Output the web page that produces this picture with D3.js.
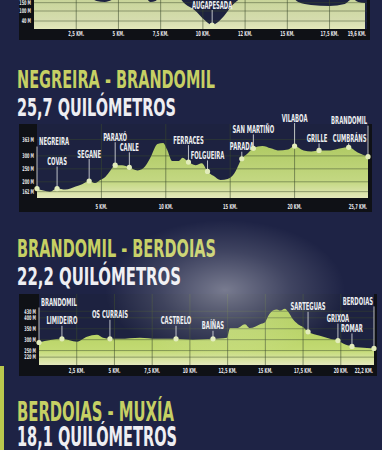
<!DOCTYPE html>
<html>
<head>
<meta charset="utf-8">
<script src="https://cdn.jsdelivr.net/npm/d3@7.9.0/dist/d3.min.js"></script>
<style>
  html, body { margin: 0; padding: 0; background: #1e2345; }
  svg { display: block; }
  text { font-family: "Liberation Sans Narrow", "DejaVu Sans Condensed", "Roboto", sans-serif; font-weight: bold; }
  text.title { font-family: "DejaVu Sans Condensed", "Liberation Sans Narrow", sans-serif; }
</style>
</head>
<body>
<svg id="chart" width="382" height="450"></svg>
<script>
// --- data -------------------------------------------------------------
// previous stage, only its bottom strip is visible
const prevKm = [0, 3.3, 3.7, 4.2, 4.6, 5.1, 6.6, 6.9, 7.2, 7.5, 8.5, 8.95, 9.5, 10.1, 10.55, 10.9, 11.3, 11.7, 12.1, 12.5, 15.2, 15.65, 16.4, 17.5, 18.4, 18.85, 19.2, 19.6];
const prevElev = [196, 178, 160, 154, 166, 196, 178, 154, 160, 190, 184, 142, 106, 46, 16, 34, 76, 130, 166, 196, 184, 154, 136, 130, 142, 172, 154, 148];
const prevPlaces = ['AUGAPESADA'];
const prevPlaceKm = [10.55];
const prevPlaceElev = [16];
const prevXTicks = [2.5, 5, 7.5, 10, 12.5, 15, 17.5, 19.6];
const prevXLabels = ['2,5 KM.', '5 KM.', '7,5 KM.', '10 KM.', '12 KM.', '15 KM.', '17,5 KM.', '19,6 KM.'];
const prevYTicks = [40, 100, 150];

// Negreira - Brandomil
const negKm = [0, 0.5, 1.0, 1.56, 2.2, 3.0, 3.5, 4.05, 4.5, 4.9, 5.3, 5.7, 6.07, 6.6, 7.17, 7.8, 8.25, 8.8, 9.35, 9.8, 10.1, 10.5, 11.0, 11.3, 11.76, 12.3, 12.8, 13.24, 13.7, 14.25, 14.8, 15.3, 15.9, 16.35, 16.8, 17.5, 18.15, 18.7, 19.5, 20.0, 20.7, 21.3, 21.9, 22.8, 23.6, 24.2, 24.9, 25.7];
const negElev = [174, 166, 162, 174, 170, 182, 191, 203, 195, 207, 219, 244, 264, 264, 256, 244, 252, 293, 346, 350, 325, 280, 280, 293, 276, 264, 272, 240, 223, 207, 211, 231, 289, 309, 329, 338, 329, 321, 325, 338, 321, 317, 321, 321, 329, 333, 313, 297];
const negPlaces = ['NEGREIRA', 'COVAS', 'SEGANE', 'PARAXÓ', 'CANLE', 'FERRACES', 'FOLGUEIRA', 'PARADA', 'SAN MARTIÑO', 'VILABOA', 'GRILLE', 'CUMBRÁNS', 'BRANDOMIL'];
const negPlaceKm = [0, 1.56, 4.05, 6.07, 7.17, 11.76, 13.24, 15.9, 16.8, 20.0, 21.9, 24.2, 25.7];
const negPlaceElev = [174, 174, 203, 264, 256, 276, 240, 289, 329, 338, 321, 333, 297];
const negXTicks = [5, 10, 15, 20, 25.7];
const negXLabels = ['5 KM.', '10 KM.', '15 KM.', '20 KM.', '25,7 KM.'];
const negYTicks = [162, 200, 250, 300, 363];

// Brandomil - Berdoias
const braKm = [0, 1.52, 2.52, 3.18, 3.84, 4.24, 4.7, 5.37, 6.69, 7.82, 9.08, 10.2, 11.53, 12.46, 12.66, 13.12, 13.65, 13.98, 14.65, 14.98, 15.18, 15.5, 15.77, 15.97, 16.3, 16.5, 16.83, 17.16, 17.5, 17.83, 18.62, 19.28, 19.81, 20.15, 20.74, 21.27, 22.2];
const braElev = [287, 304, 291, 313, 322, 309, 304, 304, 309, 304, 304, 300, 304, 309, 353, 353, 371, 353, 371, 380, 407, 433, 438, 433, 442, 429, 393, 371, 358, 336, 318, 304, 296, 282, 269, 264, 260];
const braPlaces = ['BRANDOMIL', 'LIMIDEIRO', 'OS CURRAIS', 'CASTRELO', 'BAÍÑAS', 'SARTEGUAS', 'GRIXOA', 'ROMAR', 'BERDOIAS'];
const braPlaceKm = [0, 1.52, 4.7, 9.08, 11.53, 17.83, 19.81, 20.74, 22.2];
const braPlaceElev = [287, 304, 304, 304, 304, 336, 296, 269, 260];
const braXTicks = [2.5, 5, 7.5, 10, 12.5, 15, 17.5, 20, 22.2];
const braXLabels = ['2,5 KM.', '5 KM.', '7,5 KM.', '10 KM.', '12,5 KM.', '15 KM.', '17,5 KM.', '20 KM.', '22,2 KM.'];
const braYTicks = [220, 250, 300, 350, 400, 430];

// --- drawing ----------------------------------------------------------
const svg = d3.select('#chart');
const defs = svg.append('defs');

// soft glare from the photo
const glare = defs.append('radialGradient').attr('id', 'glare');
glare.append('stop').attr('offset', '0%').attr('stop-color', '#ffffff').attr('stop-opacity', 0.4);
glare.append('stop').attr('offset', '55%').attr('stop-color', '#ffffff').attr('stop-opacity', 0.15);
glare.append('stop').attr('offset', '100%').attr('stop-color', '#ffffff').attr('stop-opacity', 0);

svg.append('rect').attr('width', 382).attr('height', 450).attr('fill', '#1e2345');
svg.append('rect').attr('x', 0).attr('y', 366).attr('width', 4).attr('height', 84).attr('fill', '#b9c84e');

// measure once so labels get the narrow print look whatever font is picked
const probe = svg.append('text').attr('font-size', 10).text('NEGREIRA');
const squeeze = 30 / probe.node().getComputedTextLength();
probe.remove();

function condense(sel) {
    sel.each(function () {
        const w = this.getComputedTextLength();
        d3.select(this).attr('textLength', w * squeeze).attr('lengthAdjust', 'spacingAndGlyphs');
    });
}

function drawProfile(c, idx) {
    const g = svg.append('g');
    const x = d3.scaleLinear().domain([0, c.km[c.km.length - 1]]).range(c.xRange);
    const y = d3.scaleLinear().domain(c.yDomain).range([c.plot.y1, c.plot.y0]);

    g.append('rect')
        .attr('x', c.panel.x0).attr('y', c.panel.y0)
        .attr('width', c.panel.x1 - c.panel.x0).attr('height', c.panel.y1 - c.panel.y0)
        .attr('fill', '#0f1116');
    g.append('rect')
        .attr('x', c.plot.x0).attr('y', c.plot.y0)
        .attr('width', c.plot.x1 - c.plot.x0).attr('height', c.plot.y1 - c.plot.y0)
        .attr('fill', '#1d2240');

    const grad = defs.append('linearGradient').attr('id', 'fill' + idx)
        .attr('gradientUnits', 'userSpaceOnUse')
        .attr('x1', 0).attr('x2', 0).attr('y1', c.plot.y0 + 10).attr('y2', c.plot.y1);
    grad.append('stop').attr('offset', '0%').attr('stop-color', c.fillTop);
    grad.append('stop').attr('offset', '75%').attr('stop-color', c.fillMid);
    grad.append('stop').attr('offset', '100%').attr('stop-color', '#e4e8bc');

    defs.append('clipPath').attr('id', 'clip' + idx).append('rect')
        .attr('x', c.plot.x0).attr('y', c.plot.y0)
        .attr('width', c.plot.x1 - c.plot.x0).attr('height', c.plot.y1 - c.plot.y0);

    const inner = g.append('g').attr('clip-path', `url(#clip${idx})`);
    const area = d3.area()
        .x((d, i) => x(c.km[i]))
        .y0(c.plot.y1)
        .y1((d) => y(d))
        .curve(d3.curveMonotoneX);
    inner.append('path').datum(c.elev).attr('d', area).attr('fill', `url(#fill${idx})`);

    // grid lines show only over the light fill
    inner.selectAll('.hgrid').data(c.yTicks).join('line')
        .attr('x1', c.plot.x0).attr('x2', c.plot.x1)
        .attr('y1', (d) => y(d)).attr('y2', (d) => y(d))
        .attr('stroke', '#3c4a2c').attr('stroke-opacity', 0.6).attr('stroke-width', 0.8);
    inner.selectAll('.vgrid').data(c.xTicks.slice(0, -1)).join('line')
        .attr('x1', (d) => x(d)).attr('x2', (d) => x(d))
        .attr('y1', c.plot.y0).attr('y2', c.plot.y1)
        .attr('stroke', '#3c4a2c').attr('stroke-opacity', 0.7).attr('stroke-width', 0.8);

    // axis labels
    g.selectAll('.xlab').data(c.xTicks).join('text')
        .attr('x', (d, i) => i === c.xTicks.length - 1 ? c.plot.x1 - 1 : x(d))
        .attr('y', c.xLabelY)
        .attr('text-anchor', (d, i) => i === c.xTicks.length - 1 ? 'end' : 'middle')
        .attr('font-size', 7).attr('fill', '#e6e6ea')
        .text((d, i) => c.xLabels[i])
        .call(condense);
    g.selectAll('.ylab').data(c.yTicks).join('text')
        .attr('x', c.plot.x0 - 3).attr('y', (d) => y(d) + 2.3)
        .attr('text-anchor', 'end')
        .attr('font-size', 6.5).attr('fill', '#e6e6ea')
        .text((d) => `${d} M`)
        .call(condense);

    // places: leader, dot and name
    c.places.forEach((name, i) => {
        const px = x(c.placeKm[i]);
        const py = y(c.placeElev[i]);
        const lay = c.labels[i];
        const ly = py - lay.up;
        g.append('line')
            .attr('x1', px).attr('x2', px).attr('y1', ly + 5).attr('y2', py)
            .attr('stroke', '#eef0f0').attr('stroke-width', 0.9).attr('stroke-opacity', 0.85);
        g.append('circle').attr('cx', px).attr('cy', py).attr('r', 2.6)
            .attr('fill', '#e2ecbb');
        g.append('text')
            .attr('x', lay.anchor === 'start' ? px + 2 : lay.anchor === 'end' ? px - 1 : px + (lay.dx || 0))
            .attr('y', ly + 3.6)
            .attr('text-anchor', lay.anchor || 'middle')
            .attr('font-size', 10).attr('fill', '#eceef0')
            .text(name)
            .call(condense);
    });
}

const charts = [
    {
        km: prevKm, elev: prevElev,
        places: prevPlaces, placeKm: prevPlaceKm, placeElev: prevPlaceElev,
        xTicks: prevXTicks, xLabels: prevXLabels, yTicks: prevYTicks,
        panel: { x0: 19, x1: 370, y0: -5, y1: 40 },
        plot: { x0: 34, x1: 367, y0: -10, y1: 29 },
        xRange: [34, 365], yDomain: [-8, 226], xLabelY: 35.5,
        fillTop: '#c9d59a', fillMid: '#d6ddb0',
        labels: [{ up: 20 }]
    },
    {
        km: negKm, elev: negElev,
        places: negPlaces, placeKm: negPlaceKm, placeElev: negPlaceElev,
        xTicks: negXTicks, xLabels: negXLabels, yTicks: negYTicks,
        panel: { x0: 19, x1: 372, y0: 124, y1: 212 },
        plot: { x0: 37, x1: 368, y0: 124, y1: 198 },
        xRange: [37, 368], yDomain: [137.5, 423], xLabelY: 208.5,
        fillTop: '#a9c65a', fillMid: '#c4d883',
        labels: [
            { up: 47, anchor: 'start' }, { up: 27 }, { up: 27 }, { up: 28 }, { up: 20 },
            { up: 22 }, { up: 16 }, { up: 12 }, { up: 19 }, { up: 28 }, { up: 12, dx: -2 }, { up: 9, dx: 1 },
            { up: 36, anchor: 'end' }
        ]
    },
    {
        km: braKm, elev: braElev,
        places: braPlaces, placeKm: braPlaceKm, placeElev: braPlaceElev,
        xTicks: braXTicks, xLabels: braXLabels, yTicks: braYTicks,
        panel: { x0: 19, x1: 377, y0: 294, y1: 376 },
        plot: { x0: 39, x1: 374, y0: 294, y1: 365 },
        xRange: [39, 374], yDomain: [184, 509], xLabelY: 372.5,
        fillTop: '#a8c74e', fillMid: '#c2da73',
        labels: [
            { up: 40, anchor: 'start' }, { up: 18 }, { up: 24 }, { up: 18 }, { up: 13 },
            { up: 25 }, { up: 22 }, { up: 18 }, { up: 47, anchor: 'end' }
        ]
    }
];
charts.forEach(drawProfile);

// stage titles
const titles = [
    { head: 'NEGREIRA - BRANDOMIL', dist: '25,7 QUILÓMETROS', y1: 88, y2: 115.5, w1: 198, w2: 159, fs: 25 },
    { head: 'BRANDOMIL - BERDOIAS', dist: '22,2 QUILÓMETROS', y1: 257, y2: 285, w1: 199, w2: 164, fs: 25 },
    { head: 'BERDOIAS - MUXÍA', dist: '18,1 QUILÓMETROS', y1: 421, y2: 445.5, w1: 157, w2: 160, fs: 27 }
];
titles.forEach((t) => {
    svg.append('text').attr('class', 'title').attr('x', 17).attr('y', t.y1)
        .attr('font-size', t.fs).attr('fill', '#c6d064')
        .attr('textLength', t.w1).attr('lengthAdjust', 'spacingAndGlyphs')
        .text(t.head);
    svg.append('text').attr('class', 'title').attr('x', 17).attr('y', t.y2)
        .attr('font-size', t.fs - 1).attr('fill', '#eeeef2')
        .attr('textLength', t.w2).attr('lengthAdjust', 'spacingAndGlyphs')
        .text(t.dist);
});

svg.append('ellipse').attr('cx', 225).attr('cy', 290).attr('rx', 120).attr('ry', 70)
    .attr('fill', 'url(#glare)').attr('pointer-events', 'none');
</script>
</body>
</html>
